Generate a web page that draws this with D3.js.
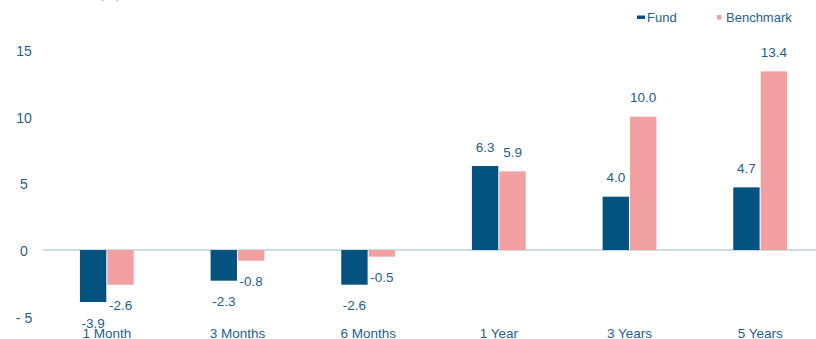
<!DOCTYPE html>
<html>
<head>
<meta charset="utf-8">
<script src="https://cdn.jsdelivr.net/npm/d3@7"></script>
<style>
  body { margin: 0; background: #fff; }
  svg { display: block; font-family: "Liberation Sans", Arial, sans-serif; }
</style>
</head>
<body>
<div id="chart"></div>
<script>
const categories = ["1 Month", "3 Months", "6 Months", "1 Year", "3 Years", "5 Years"];
const fundValues = [-3.9, -2.3, -2.6, 6.3, 4.0, 4.7];
const benchmarkValues = [-2.6, -0.8, -0.5, 5.9, 10.0, 13.4];
const seriesNames = ["Fund", "Benchmark"];
const tickValues = [-5, 0, 5, 10, 15];
const tickLabels = ["- 5", "0", "5", "10", "15"];

const width = 816;
const height = 339;
const colors = { Fund: "#03527f", Benchmark: "#f2a0a1" };
const textColor = "#1f5e8c";

const svg = d3
  .select("#chart")
  .append("svg")
  .attr("width", width)
  .attr("height", height);

// y: 15 sits at ~50px, 0 at ~250px
const y = d3.scaleLinear().domain([-5, 15]).range([316.7, 50]);

const x = d3
  .scaleBand()
  .domain(categories)
  .range([41.5, 825.5])
  .paddingInner(0)
  .paddingOuter(0);

const x1 = d3.scaleBand().domain(seriesNames).range([-28, 28]).padding(0.04);

// clipped "(%)" unit label at the top edge
svg
  .append("text")
  .attr("x", 99)
  .attr("y", -2)
  .attr("font-size", "14px")
  .attr("fill", "#7fb1da")
  .text("(%)");

// y tick labels
svg
  .selectAll(".ytick")
  .data(tickValues)
  .enter()
  .append("text")
  .attr("class", "ytick")
  .attr("x", 24)
  .attr("y", (d) => y(d) + 1)
  .attr("dy", "0.35em")
  .attr("text-anchor", "middle")
  .attr("font-size", "14px")
  .attr("fill", textColor)
  .text((d, i) => tickLabels[i]);

// zero line
svg
  .append("line")
  .attr("x1", 43)
  .attr("x2", width)
  .attr("y1", y(0))
  .attr("y2", y(0))
  .attr("stroke", "#cbdce8")
  .attr("stroke-width", 2);

const rows = [];
categories.forEach((c, i) => {
  rows.push({ cat: c, series: "Fund", value: fundValues[i] });
  rows.push({ cat: c, series: "Benchmark", value: benchmarkValues[i] });
});

const center = (d) => x(d.cat) + x.bandwidth() / 2 + x1(d.series);

svg
  .selectAll(".bar")
  .data(rows)
  .enter()
  .append("rect")
  .attr("class", "bar")
  .attr("x", (d) => center(d))
  .attr("y", (d) => y(Math.max(0, d.value)))
  .attr("width", x1.bandwidth())
  .attr("height", (d) => Math.abs(y(d.value) - y(0)))
  .attr("fill", (d) => colors[d.series]);

// value labels
svg
  .selectAll(".val")
  .data(rows)
  .enter()
  .append("text")
  .attr("class", "val")
  .attr("x", (d) => center(d) + x1.bandwidth() / 2)
  .attr("y", (d) => (d.value >= 0 ? y(d.value) - 19 : y(d.value) + 21))
  .attr("dy", "0.35em")
  .attr("text-anchor", "middle")
  .attr("font-size", "13.5px")
  .attr("fill", textColor)
  .text((d) => d.value.toFixed(1));

// category labels
svg
  .selectAll(".cat")
  .data(categories)
  .enter()
  .append("text")
  .attr("class", "cat")
  .attr("x", (d) => x(d) + x.bandwidth() / 2)
  .attr("y", 333)
  .attr("dy", "0.35em")
  .attr("text-anchor", "middle")
  .attr("font-size", "13.5px")
  .attr("fill", textColor)
  .text((d) => d);

// legend
const legend = svg.append("g");
legend
  .append("rect")
  .attr("x", 637)
  .attr("y", 15.5)
  .attr("width", 8)
  .attr("height", 3.5)
  .attr("fill", colors.Fund);
legend
  .append("text")
  .attr("x", 647)
  .attr("y", 17)
  .attr("dy", "0.35em")
  .attr("font-size", "13px")
  .attr("fill", textColor)
  .text("Fund");
legend
  .append("rect")
  .attr("x", 717)
  .attr("y", 15)
  .attr("width", 4.5)
  .attr("height", 4.5)
  .attr("fill", colors.Benchmark);
legend
  .append("text")
  .attr("x", 726)
  .attr("y", 17)
  .attr("dy", "0.35em")
  .attr("font-size", "13px")
  .attr("fill", textColor)
  .text("Benchmark");
</script>
</body>
</html>
